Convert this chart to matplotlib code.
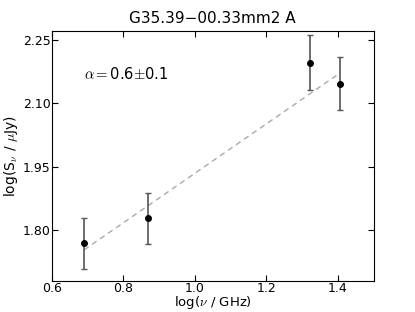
import matplotlib
matplotlib.use('Agg')
import matplotlib.pyplot as plt
import numpy as np

# 数据：log 频率, log 流量, 误差
logfreq = [0.69, 0.869, 1.323, 1.407]
logflux = [1.769, 1.828, 2.196, 2.146]
err = [0.060, 0.060, 0.064, 0.063]
slope = 0.584
intercept = 1.350
xticks = [0.6, 0.8, 1.0, 1.2, 1.4]
yticks = [1.80, 1.95, 2.10, 2.25]

plt.rcParams['mathtext.fontset'] = 'cm'

fig = plt.figure(figsize=(4.15, 3.12), dpi=100)
ax = fig.add_axes([0.125, 0.1, 0.775, 0.8])

xfit = np.array([logfreq[0], logfreq[-1]])
ax.plot(xfit, slope * xfit + intercept, '--', color='#aaaaaa', lw=1, dashes=(4, 3))
ax.errorbar(logfreq, logflux, yerr=err, fmt='o', color='black', ms=4,
            ecolor='#555555', elinewidth=1.2, capsize=2, capthick=1)

ax.text(0.69, 2.17, r'$\alpha=$0.6$\pm$0.1', fontsize=10.5, va='center')

ax.set_xlim(0.6, 1.5)
ax.set_ylim(1.68, 2.27)
ax.set_xticks(xticks)
ax.set_yticks(yticks)
ax.set_yticklabels(['%.2f' % v for v in yticks])
ax.tick_params(direction='in', top=True, right=True, labelsize=9, length=4, pad=1)
ax.set_xlabel(r'log($\nu$ / GHz)', fontsize=9.5, labelpad=-0.5)
ax.set_ylabel(r'log(S$_\nu$ / $\mu$Jy)', fontsize=10, labelpad=2)
ax.set_title('G35.39\u221200.33mm2 A', fontsize=11)

fig.savefig('out.png', dpi=100)
